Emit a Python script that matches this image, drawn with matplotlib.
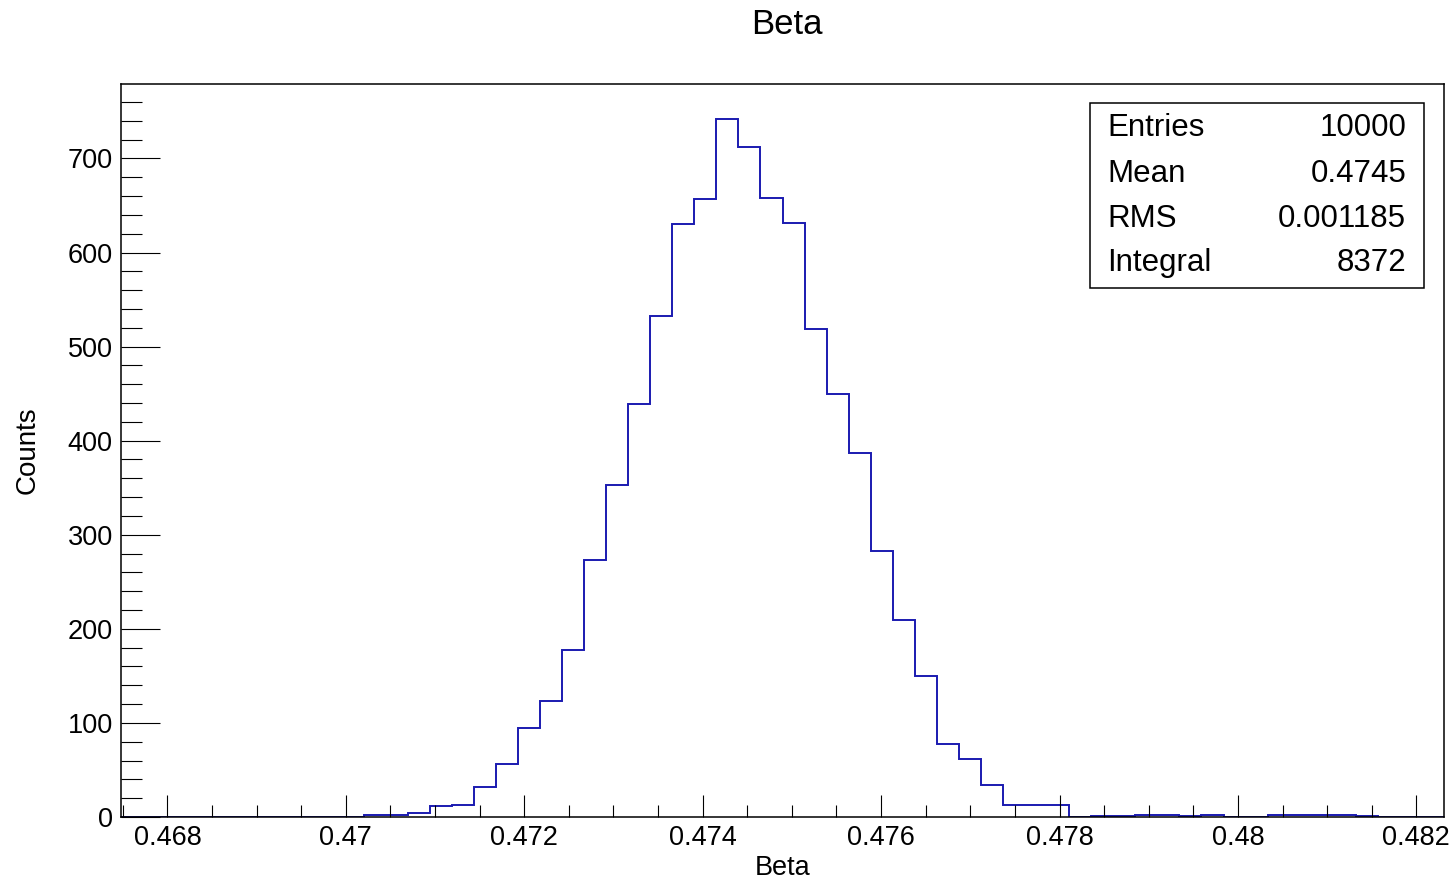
import numpy as np
import matplotlib
matplotlib.use("Agg")
import matplotlib.pyplot as plt
from matplotlib.patches import Rectangle
from matplotlib.ticker import MultipleLocator, FuncFormatter

plt.rcParams["font.family"] = ["Liberation Sans", "DejaVu Sans"]

# histogram range and bin contents (60 bins)
x_lo = 0.46748
x_hi = 0.48231
counts = [
    0, 0, 0, 0, 0, 0, 0, 0, 0, 0,
    0, 2, 2, 4, 12, 13, 32, 56, 95, 123,
    177, 273, 353, 439, 532, 630, 657, 742, 712, 658,
    631, 519, 450, 387, 283, 209, 150, 78, 62, 34,
    13, 13, 13, 0, 1, 1, 2, 2, 1, 2,
    0, 0, 2, 2, 2, 2, 1, 0, 0, 0,
]

# stats box
stat_names = ["Entries", "Mean", "RMS", "Integral"]
stat_values = ["10000", "0.4745", "0.001185", "8372"]

W, H = 1456, 883
fig = plt.figure(figsize=(W / 100, H / 100), dpi=100)
ax = fig.add_axes([121 / W, 1 - 817 / H, (1444 - 121) / W, (817 - 84) / H])

edges = np.linspace(x_lo, x_hi, len(counts) + 1)
ax.stairs(counts, edges, color="#1a1ab0", linewidth=1.4, baseline=None)

ax.set_xlim(x_lo, x_hi)
ax.set_ylim(0, 1.05 * max(counts))

ax.xaxis.set_major_locator(MultipleLocator(0.002))
ax.xaxis.set_minor_locator(MultipleLocator(0.0005))
ax.yaxis.set_major_locator(MultipleLocator(100))
ax.yaxis.set_minor_locator(MultipleLocator(20))
ax.xaxis.set_major_formatter(FuncFormatter(lambda v, p: "%g" % round(v, 6)))

ax.tick_params(which="both", direction="in", top=False, right=False,
               width=0.8, colors="black", labelsize=19.5)
ax.tick_params(axis="x", which="major", length=16, pad=5.5)
ax.tick_params(axis="x", which="minor", length=8.6)
ax.tick_params(axis="y", which="major", length=28, pad=6)
ax.tick_params(axis="y", which="minor", length=15)
for s in ax.spines.values():
    s.set_linewidth(1.1)

ax.set_xlabel("Beta", fontsize=19.5)
ax.xaxis.set_label_coords(0.5, (817 - 855) / 733)
ax.set_ylabel("Counts", fontsize=20)
ax.yaxis.set_label_coords((41 - 121) / 1323, 0.5)

fig.text(787 / W, 1 - 24 / H, "Beta", ha="center", va="center", fontsize=25)

# stats box
fig.add_artist(Rectangle((1090 / W, 1 - 288 / H), (1424 - 1090) / W, (288 - 103) / H,
                         transform=fig.transFigure, fill=False, ec="black", lw=1.1))
row_y = [128, 174, 219, 263]
for name, val, y in zip(stat_names, stat_values, row_y):
    fig.text(1107 / W, 1 - y / H, name, ha="left", va="center", fontsize=22.5)
    fig.text(1406 / W, 1 - y / H, val, ha="right", va="center", fontsize=22.5)

fig.savefig("out.png", dpi=100)
